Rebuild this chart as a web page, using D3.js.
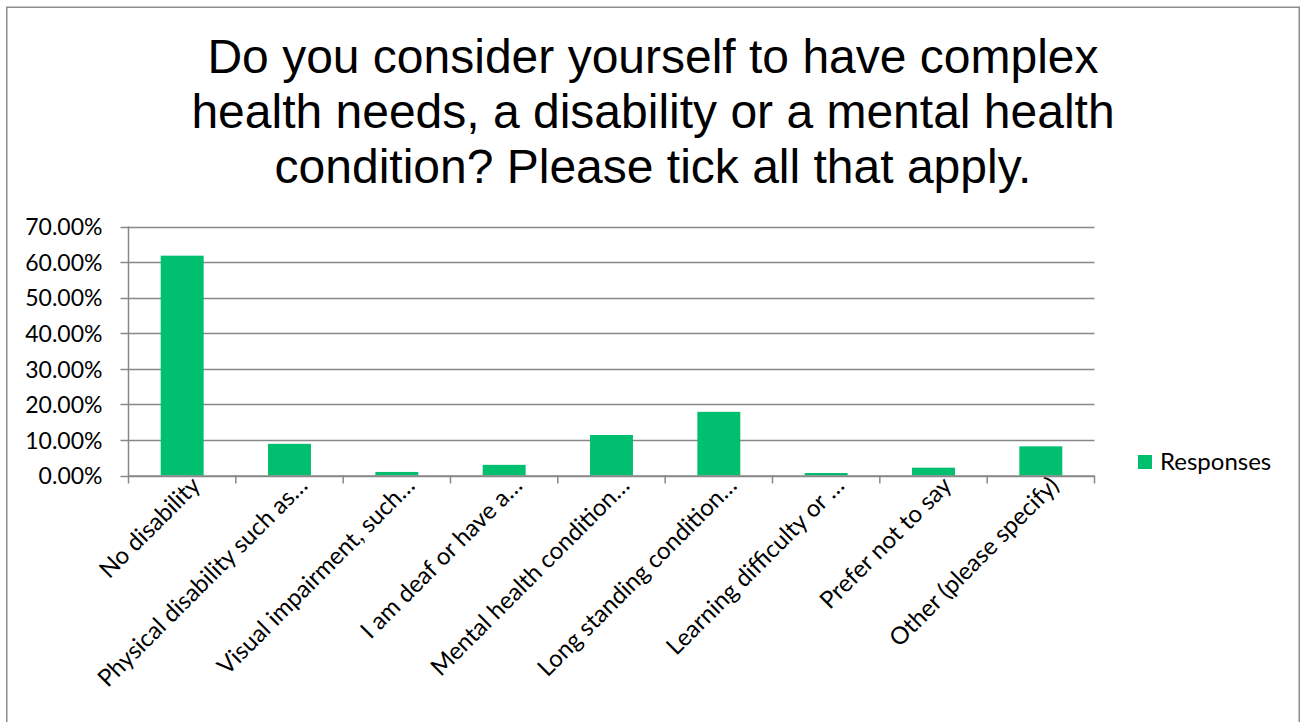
<!DOCTYPE html>
<html><head><meta charset="utf-8">
<script src="https://cdn.jsdelivr.net/npm/d3@7"></script>
<style>body{margin:0;background:#fff;} svg{display:block;}</style>
</head><body>
<svg id="chart" width="1301" height="722"></svg>
<script>
const categories = ["No disability","Physical disability such as…","Visual impairment, such…","I am deaf or have a…","Mental health condition…","Long standing condition…","Learning difficulty or …","Prefer not to say","Other (please specify)"];
const responses = [0.618, 0.089, 0.010, 0.030, 0.114, 0.179, 0.007, 0.022, 0.082];
const yTicks = [0, 0.1, 0.2, 0.3, 0.4, 0.5, 0.6, 0.7];
const titleLines = ["Do you consider yourself to have complex","health needs, a disability or a mental health","condition? Please tick all that apply."];
const seriesName = "Responses";

const svg = d3.select("#chart");
const green = "#00BF6F", grid = "#888888";
const labelFont = "Lato, 'Open Sans', sans-serif";

svg.append("rect").attr("x",6.75).attr("y",7.25).attr("width",1292.5).attr("height",730)
  .attr("fill","#fff").attr("stroke","#8c8c8c").attr("stroke-width",1.5);

svg.append("g").selectAll("text").data(titleLines).join("text")
  .attr("x",653).attr("y",(d,i)=>73+i*55).attr("text-anchor","middle")
  .attr("font-family","'Liberation Sans', Arial, sans-serif").attr("font-size",48).attr("fill","#000")
  .text(d=>d);

const pLeft=128.5, pRight=1094.5, pTop=226.5, pBottom=475.5;
const x = d3.scaleBand().domain(categories).range([pLeft,pRight]).paddingInner(0.6).paddingOuter(0.3);
const xb = d3.scaleBand().domain(categories).range([pLeft,pRight]);
const y = d3.scaleLinear().domain([0,0.7]).range([pBottom,pTop]);

// gridlines
svg.append("g").selectAll("line").data(yTicks).join("line")
  .attr("x1",pLeft-8).attr("x2",pRight).attr("y1",d=>Math.round(y(d))+0.5).attr("y2",d=>Math.round(y(d))+0.5)
  .attr("stroke",grid).attr("stroke-width",1.5);

// y axis
const yAxis = d3.axisLeft(y).tickValues(yTicks).tickFormat(d3.format(".2%")).tickSize(0).tickPadding(26);
const ga = svg.append("g").attr("transform",`translate(${pLeft},0)`).call(yAxis);
ga.select(".domain").attr("stroke",grid).attr("stroke-width",1.5).attr("d",`M0,${pTop}V${pBottom+8}`);
ga.selectAll("text").attr("font-family",labelFont).attr("font-size",23).attr("fill","#000").attr("dy","0.36em");

// bars
svg.append("g").selectAll("rect").data(responses).join("rect")
  .attr("x",(d,i)=>x(categories[i])).attr("width",x.bandwidth())
  .attr("y",d=>y(d)).attr("height",d=>pBottom-y(d)).attr("fill",green);

// x axis ticks
const xTickPos = categories.map(c=>xb(c)+xb.bandwidth());
svg.append("g").selectAll("line").data(xTickPos).join("line")
  .attr("x1",d=>d).attr("x2",d=>d).attr("y1",pBottom).attr("y2",pBottom+8)
  .attr("stroke",grid).attr("stroke-width",1.5);
svg.append("line").attr("x1",pLeft).attr("x2",pRight).attr("y1",pBottom+0.5).attr("y2",pBottom+0.5)
  .attr("stroke",grid).attr("stroke-width",1.5);

// x labels
svg.append("g").selectAll("text").data(categories).join("text")
  .attr("transform",c=>`translate(${xb(c)+xb.bandwidth()/2+11},${pBottom+3}) rotate(-45)`)
  .attr("text-anchor","end").attr("font-family",labelFont).attr("font-size",24).attr("fill","#000")
  .attr("dy","0.5em").text(d=>d);

// legend
svg.append("rect").attr("x",1138).attr("y",455).attr("width",14).attr("height",14).attr("fill",green);
svg.append("text").attr("x",1160).attr("y",470).attr("font-family",labelFont).attr("font-size",24).attr("fill","#000").text(seriesName);
</script>
</body></html>
